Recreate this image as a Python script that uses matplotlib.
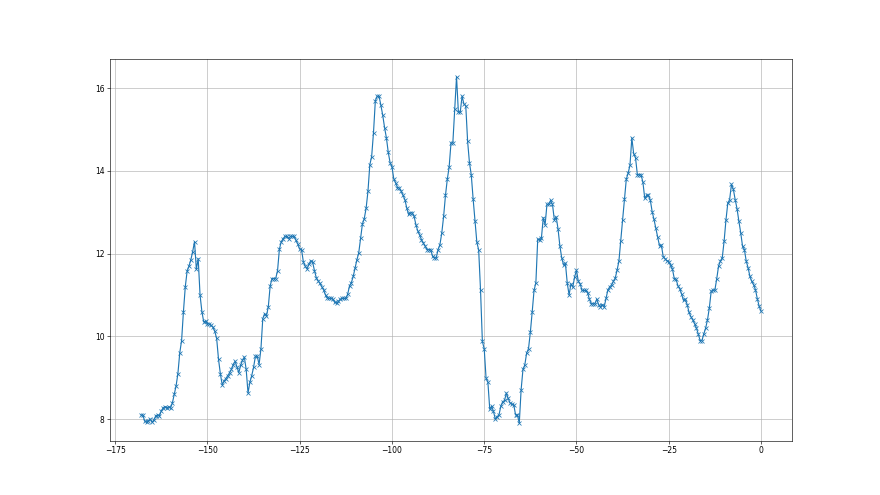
import numpy as np
import matplotlib
matplotlib.use("Agg")
import matplotlib.pyplot as plt

# readings taken every 0.5 on the x axis, from -168 to 0
x_start = -168.0
x_step = 0.5

values = [
    8.10, 8.10, 7.95, 7.92, 7.96, 8.00, 7.92, 7.98, 8.08, 8.10,        # -168.0 .. -163.5
    8.08, 8.20, 8.27, 8.30, 8.27, 8.30, 8.27, 8.39, 8.60, 8.80,        # -163.0 .. -158.5
    9.10, 9.60, 9.90, 10.60, 11.20, 11.58, 11.70, 11.85, 12.05, 12.29,  # -158.0 .. -153.5
    11.62, 11.88, 11.00, 10.60, 10.35, 10.37, 10.31, 10.30, 10.27, 10.22,
    10.12, 9.95, 9.45, 9.10, 8.83, 8.92, 8.98, 9.05, 9.12, 9.20,
    9.32, 9.40, 9.26, 9.12, 9.30, 9.42, 9.50, 9.20, 8.63, 8.89,
    9.05, 9.25, 9.52, 9.52, 9.32, 9.70, 10.43, 10.55, 10.50, 10.72,
    11.22, 11.40, 11.40, 11.40, 11.59, 12.11, 12.29, 12.36, 12.42, 12.42,
    12.36, 12.42, 12.42, 12.42, 12.32, 12.23, 12.11, 12.10, 11.80, 11.70,
    11.63, 11.75, 11.83, 11.80, 11.59, 11.42, 11.34, 11.28, 11.20, 11.12,
    11.00, 10.93, 10.92, 10.92, 10.90, 10.82, 10.80, 10.85, 10.90, 10.92,
    10.92, 10.92, 11.02, 11.22, 11.30, 11.45, 11.65, 11.85, 12.02, 12.38,
    12.72, 12.85, 13.10, 13.51, 14.15, 14.35, 14.93, 15.70, 15.81, 15.81,
    15.59, 15.35, 15.05, 14.80, 14.45, 14.20, 14.10, 13.81, 13.71, 13.60,
    13.59, 13.51, 13.41, 13.31, 13.11, 12.95, 12.99, 12.99, 12.90, 12.70,
    12.55, 12.45, 12.34, 12.26, 12.18, 12.10, 12.10, 12.10, 11.94, 11.90,
    11.90, 12.10, 12.22, 12.50, 12.90, 13.41, 13.80, 14.10, 14.68, 14.68,
    15.49, 16.28, 15.42, 15.42, 15.81, 15.62, 15.58, 14.72, 14.20, 13.90,
    13.32, 12.79, 12.28, 12.09, 11.12, 9.88, 9.70, 8.99, 8.89, 8.24,
    8.31, 8.19, 8.00, 8.06, 8.10, 8.31, 8.42, 8.45, 8.63, 8.50,
    8.39, 8.36, 8.35, 8.10, 8.10, 7.90, 8.71, 9.20, 9.31, 9.60,
    9.70, 10.10, 10.59, 11.11, 11.30, 12.35, 12.33, 12.38, 12.87, 12.70,
    13.19, 13.20, 13.29, 13.19, 12.82, 12.89, 12.60, 12.19, 11.90, 11.73,
    11.77, 11.29, 11.00, 11.27, 11.19, 11.44, 11.60, 11.33, 11.27, 11.11,
    11.11, 11.11, 11.06, 10.90, 10.79, 10.79, 10.79, 10.90, 10.77, 10.72,
    10.77, 10.71, 10.92, 11.12, 11.20, 11.24, 11.33, 11.41, 11.60, 11.82,
    12.31, 12.82, 13.32, 13.80, 13.95, 14.14, 14.80, 14.42, 14.32, 13.91,
    13.91, 13.91, 13.73, 13.34, 13.41, 13.41, 13.30, 13.02, 12.83, 12.62,
    12.40, 12.19, 12.21, 11.93, 11.88, 11.83, 11.81, 11.72, 11.63, 11.40,
    11.38, 11.22, 11.15, 11.02, 10.87, 10.90, 10.77, 10.58, 10.48, 10.40,
    10.31, 10.20, 10.06, 9.90, 9.90, 10.06, 10.20, 10.40, 10.69, 11.09,
    11.12, 11.12, 11.39, 11.70, 11.82, 11.90, 12.30, 12.81, 13.22, 13.31,
    13.68, 13.56, 13.31, 13.09, 12.79, 12.51, 12.18, 12.10, 11.82, 11.66,
    11.45, 11.33, 11.25, 11.13, 10.91, 10.73, 10.61,                     # -3.0 .. 0.0
]

x = x_start + x_step * np.arange(len(values))

fig, ax = plt.subplots(figsize=(16, 9), dpi=55)

ax.plot(x, values, marker='x')
ax.grid(True)

fig.savefig("out.png", dpi=55)
